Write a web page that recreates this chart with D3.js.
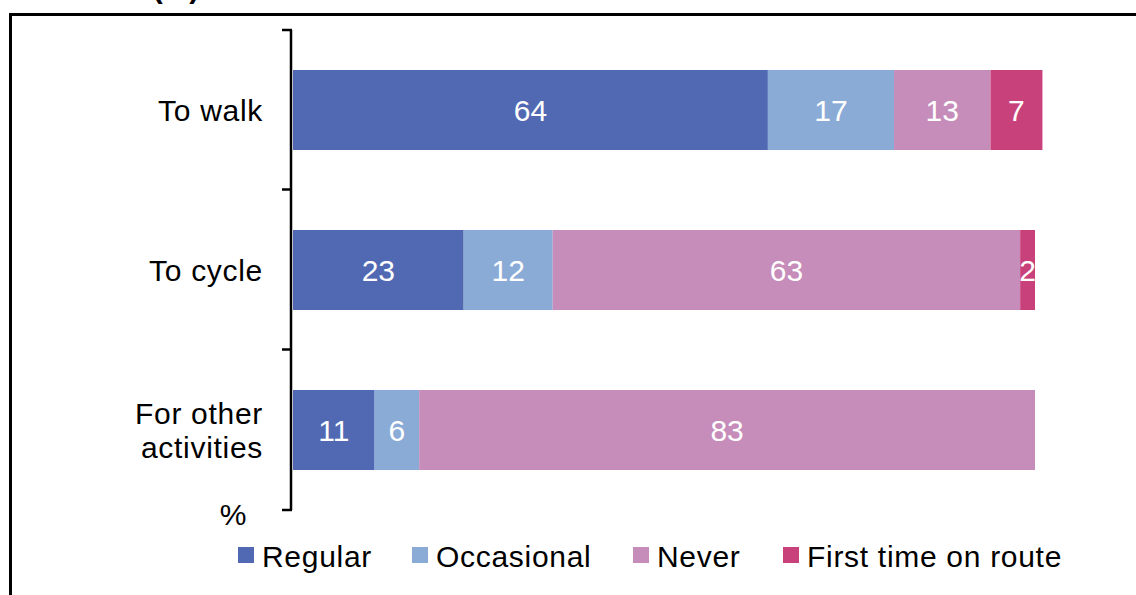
<!DOCTYPE html>
<html><head><meta charset="utf-8">
<script src="https://cdn.jsdelivr.net/npm/d3@7"></script>
<style>body{margin:0;background:#fff;} svg{display:block;font-family:"Liberation Sans",Arial,sans-serif;}</style>
</head><body>
<svg id="c" width="1136" height="595"></svg>
<script>
const categories = ["To walk", "To cycle", "For other activities"];
const seriesNames = ["Regular", "Occasional", "Never", "First time on route"];
const regular = [64, 23, 11];
const occasional = [17, 12, 6];
const never = [13, 63, 83];
const firstTime = [7, 2, 0];
const colors = ["#5169B3", "#8BABD7", "#C68DBA", "#C8417B"];

const svg = d3.select("#c");
// frame
svg.append("rect").attr("x",10.5).attr("y",14.5).attr("width",1140).attr("height",600)
  .attr("fill","none").attr("stroke","#000").attr("stroke-width",3);
svg.append("text").attr("x",176).attr("y",-2).attr("text-anchor","middle")
  .attr("font-size",30).attr("font-weight","bold").text("(%)");

const x = d3.scaleLinear().domain([0,100]).range([293,1035]);
const y = d3.scaleBand().domain(categories).range([30,510]).paddingInner(0.5).paddingOuter(0.25);

const data = categories.map((c,i)=>({cat:c, vals:[regular[i],occasional[i],never[i],firstTime[i]]}));

const g = svg.append("g");
data.forEach(d=>{
  let acc = 0;
  d.vals.forEach((v,j)=>{
    if(v<=0){return;}
    const x0 = x(acc), x1 = x(acc+v);
    g.append("rect").attr("x",x0).attr("y",y(d.cat)).attr("width",x1-x0).attr("height",y.bandwidth())
      .attr("fill",colors[j]);
    g.append("text").attr("x",(x0+x1)/2).attr("y",y(d.cat)+y.bandwidth()/2).attr("dy","0.36em")
      .attr("text-anchor","middle").attr("fill","#fff").attr("font-size",30).text(v);
    acc += v;
  });
});

// axis
const ax = svg.append("g");
ax.append("line").attr("x1",291).attr("x2",291).attr("y1",30).attr("y2",510).attr("stroke","#000").attr("stroke-width",2.5);
const bounds = [30,189.5,349.5,510];
bounds.forEach(b=>ax.append("line").attr("x1",282).attr("x2",292).attr("y1",b).attr("y2",b).attr("stroke","#000").attr("stroke-width",2.5));

// category labels
const LS = "0.7px";
data.forEach(d=>{
  const cy = y(d.cat)+y.bandwidth()/2;
  const t = svg.append("text").attr("text-anchor","end").attr("font-size",30).attr("fill","#000").attr("letter-spacing",LS);
  if(d.cat==="For other activities"){
    t.append("tspan").attr("x",263).attr("y",cy-17).attr("dy","0.36em").text("For other");
    t.append("tspan").attr("x",263).attr("y",cy+17).attr("dy","0.36em").text("activities");
  } else {
    t.attr("x",263).attr("y",cy).attr("dy","0.36em").text(d.cat);
  }
});
svg.append("text").attr("x",233).attr("y",514).attr("dy","0.36em").attr("text-anchor","middle").attr("font-size",30).text("%");

// legend
const legX = [238, 412, 633, 783];
seriesNames.forEach((s,i)=>{
  svg.append("rect").attr("x",legX[i]).attr("y",547).attr("width",16).attr("height",16).attr("fill",colors[i]);
  svg.append("text").attr("x",legX[i]+24).attr("y",556).attr("dy","0.36em").attr("font-size",30).attr("letter-spacing",LS).text(s);
});
</script>
</body></html>
